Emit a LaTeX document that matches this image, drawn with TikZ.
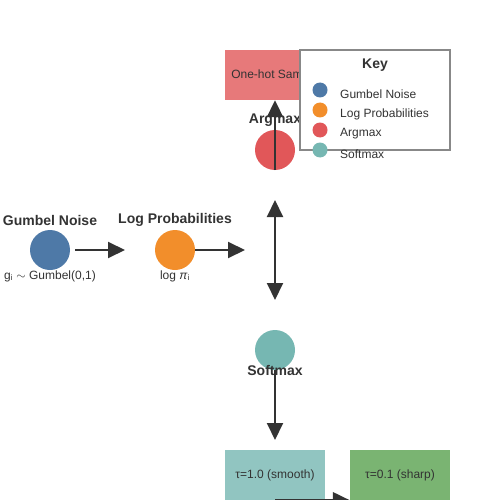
\documentclass[tikz,border=0pt]{standalone}
\usepackage{fontspec}
\setmainfont{Liberation Sans}
\usetikzlibrary{arrows.meta}
\definecolor{gumbelc}{HTML}{4E79A7}
\definecolor{logpc}{HTML}{F28E2B}
\definecolor{argmaxc}{HTML}{E15759}
\definecolor{softc}{HTML}{76B7B2}
\definecolor{sharpc}{HTML}{59A14F}
\definecolor{textgray}{HTML}{333333}
\definecolor{keygray}{HTML}{888888}
\begin{document}
\begin{tikzpicture}[x = 1pt, y = -1pt, font = \fontsize{12}{14}\selectfont, text = textgray,
  dot/.style = {circle, minimum size = 40pt, inner sep = 0pt},
  keydot/.style = {circle, minimum size = 15pt, inner sep = 0pt},
  title/.style = {font = \fontsize{14}{16}\selectfont\bfseries},
  box/.style = {minimum width = 100pt, minimum height = 50pt, inner sep = 0pt},
  arr/.style = {-{Triangle[length = 17pt, width = 16pt]}, line width = 2pt, draw = textgray}]
\useasboundingbox (0,0) rectangle (500,500);
% circles
\node [dot, fill = gumbelc] (gumbel) at (50,250) {};
\node [dot, fill = logpc] (logp) at (175,250) {};
\node [dot, fill = argmaxc] (argmax) at (275,150) {};
\node [dot, fill = softc] (soft) at (275,350) {};
\node [title] (gumbeltitle) at (50,220) {Gumbel Noise};
\node [title] (logptitle) at (175,220) {Log Probabilities};
\node [title] (argmaxtitle) at (275,120) {Argmax};
\node (gumbellabel) at (50,276) {g\textsubscript{i} $\sim$ Gumbel(0,1)};
\node (logplabel) at (175,276) {log \textit{π}\textsubscript{i}};
% boxes
\node [box, fill = argmaxc!80!white] (onehot) at (275,75) {One-hot Sample};
\node [box, fill = softc!80!white] (smooth) at (275,475) {τ=1.0 (smooth)};
\node [box, fill = sharpc!80!white] (sharp) at (400,475) {τ=0.1 (sharp)};
% free ends
\coordinate (a1) at (125,250);
\coordinate (a2) at (245,250);
\coordinate (up) at (275,200);
\coordinate (down) at (275,300);
\coordinate (a3) at (275,440);
\draw [arr] ([xshift = 5pt]gumbel.east) -- (a1);
\draw [arr] (logp.east) -- (a2);
\draw [arr, {Triangle[length = 17pt, width = 16pt]}-{Triangle[length = 17pt, width = 16pt]}] (up) -- (down);
\draw [arr] (argmax.south) -- (onehot.south);
\draw [arr] (soft.south) -- (a3);
\draw [arr] (smooth.south) -- (sharp.south west);
\node [title] (softtitle) at (275,370) {Softmax};
% key
\draw [fill = white, draw = keygray, line width = 1.5pt] (300,50) rectangle (450,150);
\node [title] (key) at (375,65) {Key};
\foreach \c/\t [count = \i] in {gumbelc/Gumbel Noise, logpc/Log Probabilities, argmaxc/Argmax, softc/Softmax}
{
\node [keydot, fill = \c] (k\i) at (320,70+20*\i) {};
\node [anchor = west, inner sep = 0pt] (kt\i) at (340,74+20*\i) {\t};
}
\end{tikzpicture}
\end{document}
